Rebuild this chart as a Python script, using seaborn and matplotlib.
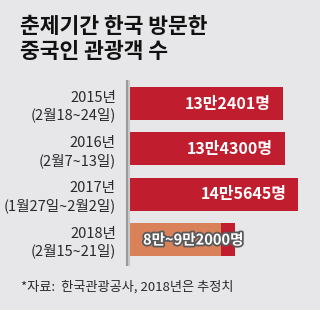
import matplotlib
matplotlib.use("Agg")
import matplotlib.pyplot as plt
import matplotlib.patheffects as pe
import seaborn as sns
import pandas as pd

# ---- data ----
periods = ["2015년\n(2월18~24일)", "2016년\n(2월7~13일)", "2017년\n(1월27일~2월2일)", "2018년\n(2월15~21일)"]
visitors_high = [132401, 134300, 145645, 92000]
visitors_low_2018 = [80000]
value_labels = ["13만2401명", "13만4300명", "14만5645명", "8만~9만2000명"]
title = "춘제기간 한국 방문한\n중국인 관광객 수"
source = "*자료:  한국관광공사, 2018년은 추정치"

BG = "#e7e7e9"
RED = "#c01e2f"
ORANGE = "#d9825a"

sns.set_theme(style="white")
plt.rcParams["font.family"] = ["Noto Sans CJK KR", "DejaVu Sans"]

W, H = 320, 310
fig = plt.figure(figsize=(W / 100, H / 100), dpi=100, facecolor=BG)

# axes in pixel coordinates
ax_left, ax_right, ax_top, ax_bottom = 127, 315, 81, 265
ax = fig.add_axes([ax_left / W, 1 - ax_bottom / H, (ax_right - ax_left) / W, (ax_bottom - ax_top) / H])
ax.set_facecolor(BG)

df = pd.DataFrame({"period": periods, "high": visitors_high})
df18 = pd.DataFrame({"period": [periods[3]], "low": visitors_low_2018})

sns.barplot(data=df, y="period", x="high", order=periods, color=RED,
            width=0.73, saturation=1, ax=ax, edgecolor="none")
sns.barplot(data=df18, y="period", x="low", order=periods, color=ORANGE,
            width=0.73, saturation=1, ax=ax, edgecolor="none")

spacing = 45.3
span = (ax_bottom - ax_top) / spacing
ax.set_ylim(-0.5 + span, -0.5)
ax.set_xlim(0, (ax_right - ax_left) / 0.001176)

ax.set_xlabel("")
ax.set_ylabel("")
ax.set_xticks([])
for s in ["top", "right", "bottom"]:
    ax.spines[s].set_visible(False)
ax.spines["left"].set_color("#9a9a9a")
ax.spines["left"].set_linewidth(1.5)
ax.spines["left"].set_path_effects([pe.SimpleLineShadow(offset=(1.2, 0), shadow_color="#c8c8c8", alpha=1), pe.Normal()])

ax.tick_params(axis="y", length=0, pad=8, labelsize=10.5, labelcolor="#2a2a2a")
for lbl in ax.get_yticklabels():
    lbl.set_multialignment("right")
    lbl.set_linespacing(1.25)

# value labels
for i, (v, t) in enumerate(zip(visitors_high[:3], value_labels[:3])):
    ax.annotate(t, xy=(v, i), xytext=(-12, 0), textcoords="offset pixels",
                ha="right", va="center", color="white", fontsize=11.5, fontweight="bold")
ax.annotate(value_labels[3], xy=(0, 3), xytext=(16, 0), textcoords="offset pixels",
            ha="left", va="center", color="white", fontsize=10.5, fontweight="bold",
            path_effects=[pe.withStroke(linewidth=2.6, foreground="#5a5a5a")])

fig.text(20 / W, 1 - 16 / H, title, ha="left", va="top", fontsize=15.5,
         fontweight="bold", color="#111111", linespacing=1.25)
fig.text(21 / W, 1 - 287 / H, source, ha="left", va="center", fontsize=9.5, color="#2a2a2a")

fig.savefig("out.png", dpi=100, facecolor=BG)
